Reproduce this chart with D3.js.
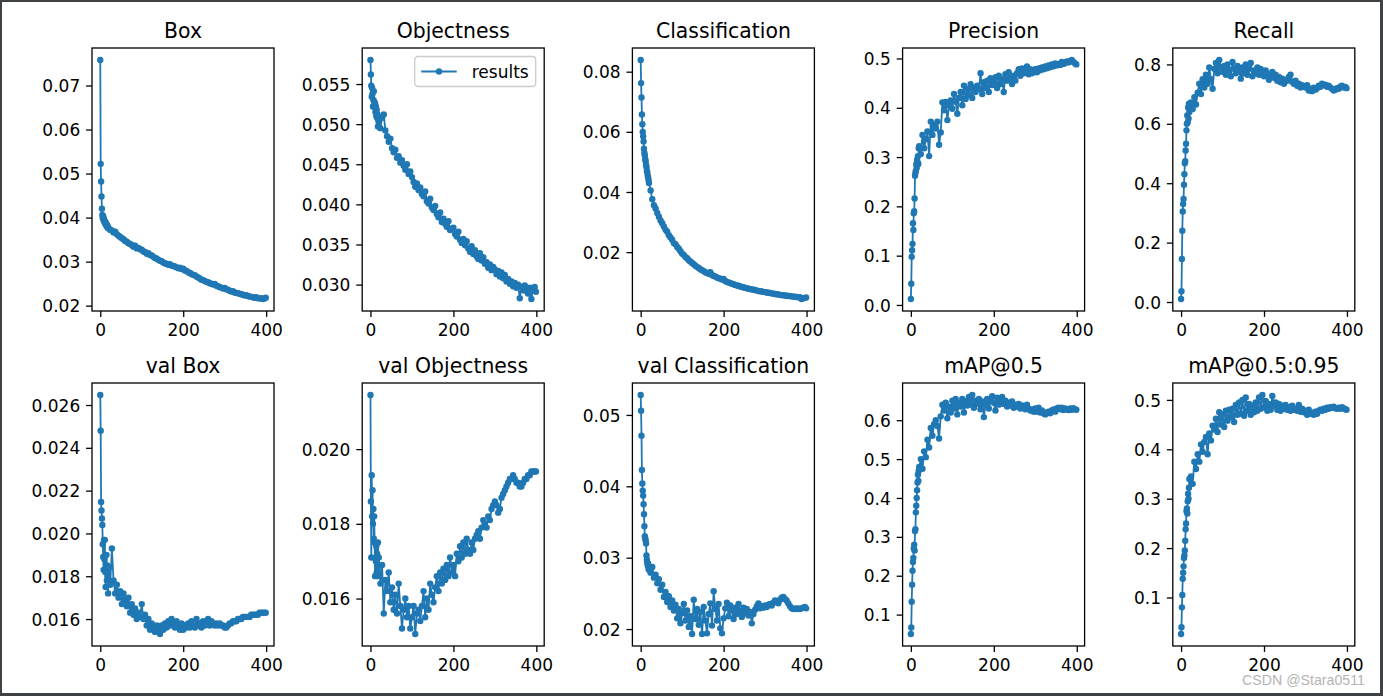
<!DOCTYPE html>
<html><head><meta charset="utf-8">
<script src="https://cdn.jsdelivr.net/npm/d3@7"></script>
<style>body{margin:0;background:#fff} svg{display:block} text{font-family:"DejaVu Sans",sans-serif}</style>
</head><body><svg id="c" width="1383" height="696"></svg>
<script>
const epochs = [0,1,2,3,4,5,6,7,8,9,10,11,12,13,14,15,16,17,18,19,
20,24,28,32,36,40,44,48,52,56,60,64,68,72,76,80,84,88,92,96,
100,104,108,112,116,120,124,128,132,136,140,144,148,152,156,160,164,168,172,176,
180,184,188,192,196,200,204,208,212,216,220,224,228,232,236,240,244,248,252,256,
260,264,268,272,276,280,284,288,292,296,300,304,308,312,316,320,324,328,332,336,
340,344,348,352,356,360,364,368,372,376,380,384,388,392,396,399];

const boxLoss = [0.0758,0.0522,0.0482,0.0448,0.0420,0.0406,0.0399,0.0403,0.0394,0.0397,0.0390,0.0392,0.0386,0.0389,0.0383,0.0385,0.0380,0.0382,0.0377,0.0378,
0.0376,0.0372,0.0371,0.0366,0.0368,0.0362,0.0359,0.0356,0.0353,0.0351,0.0347,0.0345,0.0342,0.0340,0.0338,0.0334,0.0336,0.0330,0.0331,0.0328,
0.0327,0.0323,0.0322,0.0318,0.0319,0.0315,0.0314,0.0311,0.0308,0.0307,0.0304,0.0302,0.0301,0.0298,0.0296,0.0295,0.0293,0.0294,0.0291,0.0290,
0.0289,0.0287,0.0285,0.0286,0.0283,0.0284,0.0280,0.0279,0.0276,0.0274,0.0272,0.0270,0.0269,0.0266,0.0264,0.0262,0.0259,0.0258,0.0256,0.0254,
0.0253,0.0251,0.0250,0.0248,0.0249,0.0245,0.0244,0.0242,0.0241,0.0239,0.0240,0.0237,0.0236,0.0234,0.0232,0.0233,0.0230,0.0229,0.0228,0.0227,
0.0226,0.0225,0.0223,0.0224,0.0222,0.0221,0.0220,0.0219,0.0218,0.0219,0.0217,0.0216,0.0217,0.0215,0.0216,0.0218];

const objLoss = [0.0580,0.0562,0.0548,0.0534,0.0545,0.0538,0.0522,0.0530,0.0541,0.0528,0.0521,0.0526,0.0515,0.0522,0.0510,0.0518,0.0508,0.0512,0.0497,0.0505,
0.0503,0.0495,0.0508,0.0512,0.0492,0.0485,0.0478,0.0482,0.0470,0.0465,0.0468,0.0458,0.0460,0.0452,0.0455,0.0448,0.0443,0.0450,0.0438,0.0441,
0.0434,0.0428,0.0422,0.0426,0.0418,0.0421,0.0413,0.0410,0.0416,0.0404,0.0401,0.0407,0.0396,0.0393,0.0398,0.0388,0.0384,0.0390,0.0378,0.0382,
0.0376,0.0372,0.0379,0.0368,0.0370,0.0371,0.0363,0.0360,0.0366,0.0356,0.0352,0.0357,0.0349,0.0354,0.0345,0.0341,0.0348,0.0338,0.0343,0.0335,
0.0332,0.0339,0.0330,0.0334,0.0326,0.0328,0.0321,0.0325,0.0318,0.0322,0.0319,0.0313,0.0317,0.0310,0.0315,0.0308,0.0312,0.0304,0.0307,0.0301,
0.0304,0.0298,0.0302,0.0296,0.0300,0.0283,0.0297,0.0293,0.0299,0.0292,0.0289,0.0296,0.0282,0.0294,0.0297,0.0291];

const clsLoss = [0.0839,0.0762,0.0714,0.0658,0.0625,0.0600,0.0585,0.0568,0.0544,0.0530,0.0522,0.0510,0.0502,0.0490,0.0483,0.0470,0.0466,0.0455,0.0448,0.0440,
0.0430,0.0405,0.0376,0.0356,0.0345,0.0330,0.0318,0.0305,0.0296,0.0285,0.0274,0.0268,0.0256,0.0249,0.0241,0.0230,0.0226,0.0217,0.0211,0.0203,
0.0195,0.0191,0.0184,0.0180,0.0173,0.0169,0.0164,0.0160,0.0155,0.0151,0.0147,0.0143,0.0140,0.0137,0.0133,0.0131,0.0128,0.0133,0.0124,0.0121,
0.0119,0.0116,0.0113,0.0112,0.0109,0.0111,0.0104,0.0101,0.0099,0.0097,0.0095,0.0093,0.0091,0.0089,0.0088,0.0086,0.0084,0.0083,0.0081,0.0080,
0.0078,0.0077,0.0076,0.0075,0.0074,0.0072,0.0071,0.0070,0.0069,0.0068,0.0067,0.0066,0.0065,0.0064,0.0063,0.0062,0.0061,0.0060,0.0059,0.0058,
0.0057,0.0057,0.0056,0.0055,0.0054,0.0054,0.0053,0.0052,0.0052,0.0051,0.0050,0.0050,0.0044,0.0047,0.0048,0.0049];

const precision = [0.012,0.043,0.098,0.111,0.124,0.166,0.152,0.186,0.190,0.216,0.262,0.268,0.272,0.285,0.278,0.294,0.290,0.302,0.286,0.318,
0.322,0.306,0.345,0.318,0.336,0.352,0.302,0.372,0.345,0.365,0.358,0.372,0.325,0.350,0.411,0.395,0.412,0.375,0.405,0.415,
0.398,0.428,0.412,0.388,0.420,0.432,0.405,0.445,0.418,0.438,0.426,0.448,0.420,0.440,0.432,0.445,0.438,0.470,0.428,0.452,
0.440,0.455,0.432,0.460,0.446,0.452,0.462,0.440,0.465,0.448,0.458,0.432,0.468,0.455,0.472,0.460,0.448,0.465,0.455,0.470,
0.478,0.465,0.480,0.470,0.476,0.484,0.468,0.478,0.470,0.474,0.478,0.472,0.480,0.476,0.482,0.478,0.484,0.480,0.486,0.482,
0.488,0.484,0.490,0.486,0.489,0.487,0.493,0.489,0.491,0.494,0.492,0.495,0.497,0.493,0.490,0.488];

const recall = [0.010,0.036,0.145,0.240,0.305,0.330,0.347,0.395,0.430,0.467,0.474,0.510,0.533,0.578,0.600,0.628,0.605,0.655,0.618,0.668,
0.640,0.672,0.650,0.690,0.665,0.705,0.735,0.700,0.750,0.722,0.765,0.735,0.790,0.750,0.718,0.785,0.805,0.770,0.815,0.790,
0.775,0.795,0.765,0.800,0.782,0.760,0.808,0.785,0.770,0.795,0.778,0.752,0.790,0.770,0.800,0.765,0.785,0.805,0.760,0.780,
0.770,0.790,0.765,0.785,0.775,0.760,0.780,0.768,0.748,0.762,0.775,0.755,0.765,0.745,0.758,0.740,0.752,0.735,0.748,0.745,
0.758,0.765,0.742,0.735,0.745,0.728,0.735,0.722,0.730,0.725,0.722,0.730,0.712,0.718,0.710,0.722,0.715,0.720,0.728,0.725,
0.735,0.730,0.732,0.725,0.728,0.722,0.718,0.712,0.715,0.720,0.718,0.725,0.728,0.722,0.724,0.720];

const valBox = [0.02647,0.0248,0.02147,0.02107,0.0207,0.0204,0.0195,0.0189,0.0183,0.0197,0.0188,0.0197,0.0182,0.0175,0.0184,0.0190,0.0178,0.0185,0.0180,0.0172,
0.0184,0.0176,0.0193,0.0178,0.0172,0.0176,0.0170,0.0173,0.0167,0.0172,0.0169,0.0166,0.0170,0.0163,0.0167,0.0162,0.0165,0.0160,0.0163,0.0161,
0.0167,0.0160,0.0162,0.0157,0.0160,0.0155,0.0158,0.0156,0.0154,0.0157,0.0155,0.0153,0.0157,0.0155,0.0158,0.0156,0.0159,0.0157,0.0160,0.0158,
0.0156,0.0159,0.0157,0.0155,0.0158,0.0155,0.0157,0.0156,0.0158,0.0156,0.0159,0.0157,0.0156,0.0160,0.0157,0.0158,0.0156,0.0159,0.0157,0.0158,
0.0160,0.0157,0.0159,0.0158,0.0157,0.0158,0.0157,0.0158,0.0157,0.0157,0.0156,0.0156,0.0157,0.0158,0.0158,0.0159,0.0159,0.0159,0.0160,0.0160,
0.0160,0.0161,0.0161,0.0161,0.0161,0.0161,0.0162,0.0162,0.0162,0.0162,0.0162,0.0163,0.0163,0.0163,0.0163,0.0163];

const valObj = [0.02145,0.0186,0.0171,0.0193,0.0182,0.0189,0.0180,0.0184,0.0176,0.0182,0.0175,0.0166,0.0175,0.0170,0.0174,0.0167,0.0172,0.0168,0.0175,0.0166,
0.0171,0.0164,0.0169,0.0156,0.0165,0.0162,0.0167,0.0159,0.0163,0.0157,0.0161,0.0156,0.0164,0.0158,0.0152,0.0157,0.0160,0.0155,0.0158,0.0152,
0.0155,0.0158,0.01505,0.0156,0.0157,0.0154,0.0158,0.0162,0.0155,0.0160,0.0157,0.0164,0.0161,0.0159,0.0163,0.0166,0.0162,0.0167,0.0164,0.0168,
0.0165,0.0169,0.0166,0.0171,0.0167,0.0169,0.0166,0.0172,0.0170,0.0174,0.0171,0.0175,0.0172,0.0176,0.0173,0.0172,0.0175,0.0173,0.0176,0.0177,
0.0178,0.0176,0.0179,0.0181,0.0180,0.0179,0.0182,0.0181,0.0184,0.0185,0.0186,0.0185,0.0183,0.0184,0.0187,0.0188,0.0189,0.0190,0.0191,0.0192,
0.0192,0.0193,0.0192,0.0191,0.0191,0.0190,0.0190,0.0191,0.0192,0.0192,0.0193,0.0193,0.0194,0.0194,0.0194,0.0194];

const valCls = [0.0528,0.0506,0.0471,0.0423,0.0404,0.0394,0.0387,0.0375,0.0361,0.0344,0.0330,0.0327,0.0324,0.0320,0.0303,0.0297,0.0293,0.0289,0.0292,0.0284,
0.0283,0.0279,0.0287,0.0272,0.0276,0.0264,0.0270,0.0255,0.0262,0.0245,0.0252,0.0238,0.0246,0.0231,0.0240,0.0226,0.0234,0.0215,0.0228,0.0208,
0.0222,0.0235,0.0212,0.0226,0.0203,0.0218,0.0193,0.0241,0.0214,0.0228,0.0206,0.0224,0.0193,0.0231,0.0212,0.0194,0.0221,0.0236,0.0205,0.0253,
0.0228,0.0212,0.0235,0.0201,0.0194,0.0215,0.0229,0.0237,0.0218,0.0233,0.0226,0.0214,0.0230,0.0221,0.0235,0.0225,0.0217,0.0230,0.0222,0.0228,
0.0219,0.0224,0.0208,0.0221,0.0227,0.0232,0.0236,0.0229,0.0232,0.0230,0.0233,0.0231,0.0234,0.0235,0.0233,0.0237,0.0240,0.0238,0.0236,0.0241,
0.0244,0.0245,0.0242,0.0240,0.0236,0.0232,0.0229,0.0228,0.0229,0.0228,0.0229,0.0228,0.0229,0.0230,0.0231,0.0229];

const map50 = [0.050,0.067,0.133,0.177,0.213,0.235,0.246,0.270,0.280,0.265,0.315,0.320,0.363,0.380,0.400,0.420,0.440,0.460,0.444,0.470,
0.480,0.500,0.475,0.520,0.505,0.550,0.530,0.580,0.560,0.590,0.600,0.585,0.553,0.610,0.640,0.625,0.645,0.605,0.635,0.620,
0.650,0.630,0.655,0.615,0.645,0.635,0.655,0.620,0.648,0.638,0.660,0.640,0.665,0.632,0.650,0.642,0.655,0.628,0.648,0.608,
0.640,0.655,0.630,0.650,0.662,0.645,0.625,0.658,0.640,0.652,0.660,0.642,0.650,0.635,0.645,0.638,0.648,0.632,0.640,0.635,
0.642,0.630,0.638,0.632,0.628,0.640,0.630,0.625,0.628,0.622,0.630,0.622,0.632,0.620,0.625,0.618,0.615,0.620,0.622,0.618,
0.625,0.628,0.622,0.630,0.632,0.628,0.632,0.626,0.630,0.628,0.626,0.630,0.627,0.631,0.628,0.627];

const map5095 = [0.026,0.040,0.080,0.105,0.138,0.150,0.163,0.180,0.185,0.195,0.215,0.238,0.250,0.275,0.280,0.270,0.295,0.310,0.300,0.322,
0.340,0.345,0.330,0.375,0.360,0.390,0.375,0.410,0.395,0.415,0.425,0.390,0.432,0.418,0.448,0.440,0.462,0.435,0.475,0.450,
0.470,0.445,0.478,0.458,0.480,0.465,0.482,0.455,0.490,0.470,0.495,0.472,0.500,0.468,0.505,0.478,0.492,0.470,0.488,0.475,
0.495,0.478,0.505,0.482,0.510,0.485,0.498,0.478,0.492,0.480,0.508,0.488,0.495,0.480,0.492,0.478,0.488,0.482,0.490,0.480,
0.485,0.478,0.488,0.480,0.482,0.478,0.490,0.476,0.482,0.475,0.478,0.470,0.480,0.472,0.474,0.470,0.476,0.472,0.478,0.480,
0.478,0.482,0.480,0.484,0.482,0.485,0.484,0.486,0.483,0.482,0.484,0.482,0.485,0.483,0.481,0.480];

const titles = ["Box","Objectness","Classification","Precision","Recall",
  "val Box","val Objectness","val Classification","mAP@0.5","mAP@0.5:0.95"];
const series = [boxLoss,objLoss,clsLoss,precision,recall,valBox,valObj,valCls,map50,map5095];
const yTickLabels = [
  ["0.02","0.03","0.04","0.05","0.06","0.07"],
  ["0.030","0.035","0.040","0.045","0.050","0.055"],
  ["0.02","0.04","0.06","0.08"],
  ["0.0","0.1","0.2","0.3","0.4","0.5"],
  ["0.0","0.2","0.4","0.6","0.8"],
  ["0.016","0.018","0.020","0.022","0.024","0.026"],
  ["0.016","0.018","0.020"],
  ["0.02","0.03","0.04","0.05"],
  ["0.1","0.2","0.3","0.4","0.5","0.6"],
  ["0.1","0.2","0.3","0.4","0.5"]
];
const xTicks = [0,200,400];
const legendLabel = "results";

const svg = d3.select("#c");
svg.append("rect").attr("width",1383).attr("height",696).attr("fill","#3f4245");
svg.append("rect").attr("x",2).attr("y",2).attr("width",1378).attr("height",691).attr("fill","#fff");

const W = 182, H = 263, C = "#1f77b4";
const TICK = 5.9, FS = 17, R = 3.2;
const xExt = d3.extent(epochs), xPad = (xExt[1]-xExt[0])*0.05;

series.forEach((vals, i) => {
  const col = i % 5, row = Math.floor(i / 5);
  const left = 92 + col * 270.2, top = row ? 383 : 48;
  const g = svg.append("g").attr("transform", `translate(${left},${top})`);
  const x = d3.scaleLinear().domain([xExt[0]-xPad, xExt[1]+xPad]).range([0, W]);
  const ext = d3.extent(vals), pad = (ext[1]-ext[0])*0.05;
  const y = d3.scaleLinear().domain([ext[0]-pad, ext[1]+pad]).range([H, 0]);

  const pts = epochs.map((e, j) => [e, vals[j]]);
  g.append("path").datum(pts)
    .attr("d", d3.line().x(d => x(d[0])).y(d => y(d[1])))
    .attr("fill", "none").attr("stroke", C).attr("stroke-width", 1.8).attr("stroke-linejoin","round");
  g.selectAll("circle").data(pts).join("circle")
    .attr("cx", d => x(d[0])).attr("cy", d => y(d[1])).attr("r", R).attr("fill", C);

  const labs = yTickLabels[i];
  const ya = d3.axisLeft(y).tickValues(labs.map(Number)).tickFormat((d, j) => labs[j])
    .tickSize(TICK).tickPadding(TICK).tickSizeOuter(0);
  const yg = g.append("g").call(ya);
  const xa = d3.axisBottom(x).tickValues(xTicks).tickFormat(d3.format("d"))
    .tickSize(TICK).tickPadding(TICK).tickSizeOuter(0);
  const xg = g.append("g").attr("transform", `translate(0,${H})`).call(xa);
  [yg, xg].forEach(a => {
    a.select(".domain").remove();
    a.selectAll(".tick line").attr("stroke", "#000").attr("stroke-width", 1.3);
    a.selectAll(".tick text").attr("fill", "#000").style("font-size", FS + "px")
      .style("font-family", '"DejaVu Sans", sans-serif');
  });
  yg.selectAll(".tick text").attr("dy", "0.36em");
  xg.selectAll(".tick text").attr("dy", "0.76em");

  g.append("rect").attr("width", W).attr("height", H)
    .attr("fill", "none").attr("stroke", "#000").attr("stroke-width", 1.3);

  g.append("text").attr("x", W/2).attr("y", -10.2).attr("text-anchor", "middle")
    .style("font-size", "20.4px").attr("fill", "#000").text(titles[i]);

  if (i === 1) {
    const lw = 121, lh = 30, lx = W - 8.5 - lw, ly = 8.5;
    const lg = g.append("g").attr("transform", `translate(${lx},${ly})`);
    lg.append("rect").attr("width", lw).attr("height", lh).attr("rx", 3.4)
      .attr("fill", "#fff").attr("fill-opacity", 0.8).attr("stroke", "#cccccc").attr("stroke-width", 1.3);
    lg.append("line").attr("x1", 6.5).attr("x2", 42).attr("y1", lh/2).attr("y2", lh/2)
      .attr("stroke", C).attr("stroke-width", 1.8);
    lg.append("circle").attr("cx", 24.3).attr("cy", lh/2).attr("r", R).attr("fill", C);
    lg.append("text").attr("x", 57).attr("y", lh/2).attr("dy", "0.36em")
      .style("font-size", FS + "px").attr("fill", "#000").text(legendLabel);
  }
});

svg.append("text").attr("x", 1242).attr("y", 685)
  .style("font-family", '"Liberation Sans", Arial, sans-serif').style("font-size", "14.2px")
  .attr("fill", "#b4b4b4").text("CSDN @Stara0511");
</script></body></html>
